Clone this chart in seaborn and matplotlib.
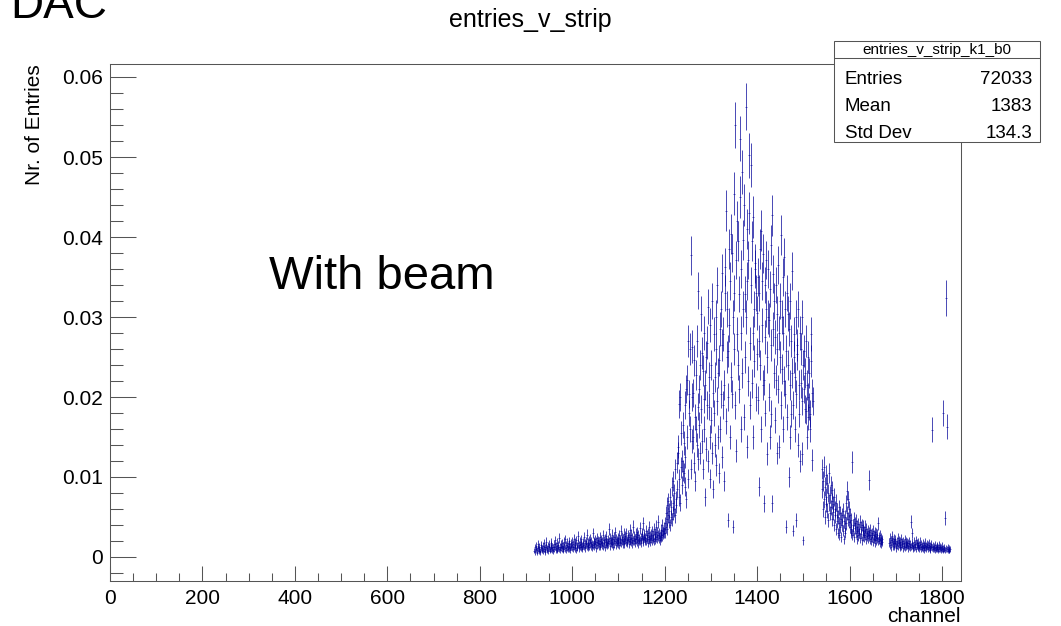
import numpy as np
import pandas as pd
import matplotlib
matplotlib.use("Agg")
import matplotlib.pyplot as plt
from matplotlib.patches import Rectangle
from matplotlib.lines import Line2D
from matplotlib.ticker import MultipleLocator, FuncFormatter
import seaborn as sns

# bin contents, in units of 1e-4
tail_left_start = 918
tail_left = [
    8, 12, 6, 10, 14, 9, 5, 11, 16, 7, 10, 13, 8, 6, 12, 15, 9, 11, 7, 14,
    10, 17, 8, 12, 6, 13, 19, 9, 11, 14, 7, 12, 16, 10, 8, 15, 11, 18, 9, 13,
    12, 7, 16, 10, 21, 13, 9, 14, 11, 18, 8, 12, 15, 10, 24, 13, 9, 16, 12, 11,
    17, 10, 14, 8, 19, 13, 11, 22, 9, 15, 12, 18, 10, 14, 16, 11, 20, 13, 9, 17,
    14, 12, 19, 10, 16, 23, 13, 11, 18, 15, 9, 21, 14, 12, 17, 26, 11, 15, 13, 19,
    16, 12, 22, 14, 10, 18, 15, 25, 13, 17, 11, 20, 16, 14, 28, 12, 18, 15, 21, 13,
    17, 23, 14, 19, 12, 16, 30, 15, 20, 13, 18, 22, 16, 11, 19, 24, 15, 17, 21, 14,
    20, 16, 25, 13, 18, 22, 15, 19, 27, 14, 21, 17, 12, 23, 19, 16, 26, 18, 15, 22,
    17, 35, 20, 14, 24, 18, 21, 16, 28, 19, 13, 22, 25, 17, 20, 31, 15, 23, 18, 21,
    24, 17, 20, 27, 15, 22, 19, 33, 18, 25, 21, 16, 23, 29, 20, 17, 26, 22, 19, 30,
    21, 18, 27, 23, 16, 25, 20, 34, 22, 19, 28, 17, 24, 21, 38, 20, 26, 18, 23, 29,
    22, 19, 31, 25, 17, 27, 23, 20, 36, 21, 24, 18, 29, 26, 22, 42, 19, 25, 28, 21,
    24, 33, 20, 27, 23, 18, 30, 25, 22, 37, 26, 19, 28, 24, 21, 32, 27, 23, 35, 20,
    26, 29, 22, 38, 25, 31, 23, 27, 44, 24, 30, 26, 21, 34, 28, 25, 40, 27, 32, 29,
    36, 30,
]
rise_start = 1200
rise = [
    42, 30, 55, 38, 48, 65, 35, 52, 70, 44, 58, 40, 75, 50, 62, 88, 47, 68, 55, 95,
    60, 80, 52, 110, 72, 65, 118, 85, 138, 130, 191, 75, 98, 200, 68, 112, 155, 90, 120, 108,
    165, 105, 142, 88, 190, 125, 72, 210, 150, 221, 270, 98, 180, 204, 260, 160, 110, 377, 200, 145,
]
peak_start = 1260
peak = [
    263, 150, 205, 118, 246, 175, 95, 228, 160, 140, 270, 188, 122, 333, 210, 165, 240, 130, 304, 185,
    145, 255, 233, 110, 198, 280, 160, 75, 215, 250, 135, 190, 268, 313, 120, 225, 188, 150, 290, 98,
    171, 240, 130, 320, 205, 85, 279, 180, 225, 140, 260, 300, 115, 195, 340, 150, 230, 105, 246, 285,
    160, 204, 310, 125, 265, 355, 190, 279, 95, 215, 330, 363, 433, 170, 250, 310, 258, 46, 200, 385,
    290, 150, 345, 404, 225, 204, 380, 38, 300, 454, 260, 330, 540, 190, 371, 133, 420, 279, 240, 395,
    329, 210, 450, 523, 280, 160, 360, 481, 230, 310, 396, 175, 440, 329, 250, 563, 300, 410, 138, 345,
    371, 220, 430, 502, 267, 190, 490, 340, 217, 395, 280, 150, 425, 310, 245, 360, 367, 200, 330, 254,
    305, 196, 350, 270, 88, 330, 240, 385, 408, 160, 290, 345, 379, 215, 67, 221, 340, 275, 180, 310,
    371, 250, 129, 300, 360, 200, 296, 335, 150, 265, 179, 390, 427, 67, 285, 354, 230, 320, 171, 275,
    221, 340, 260, 130, 304, 365, 210, 280, 138, 320, 250, 402, 190, 300, 235, 350, 160, 280, 375, 220,
    310, 204, 38, 258, 330, 175, 304, 240, 285, 100, 215, 320, 150, 179, 270, 230, 358, 33, 190, 250,
    279, 160, 225, 300, 46, 204, 265, 254, 140, 310, 215, 179, 280, 120, 217, 260, 195, 300, 129, 240,
    21, 210, 258, 185, 230, 183, 270, 150, 215, 175, 250, 200, 188, 230, 160, 179, 245, 279, 121, 205,
    195,
]
shoulder_start = 1540
shoulder = [
    85, 110, 60, 95, 72, 113, 50, 88, 66, 102, 75, 58, 92, 46, 80, 68, 105, 55, 78, 62,
    90, 48, 70, 84, 56, 66, 40, 75, 52, 60, 35, 68, 45, 58, 30, 50, 42, 62, 28, 55,
    38, 48, 25, 52, 40, 33, 58, 22, 45, 36, 50, 30, 42, 67, 55, 83, 48, 72, 60, 44,
    38, 52, 30, 46, 35, 28, 119, 40, 33, 48, 25, 42, 36, 30, 45, 22, 38, 32, 41, 27,
    35, 30, 44, 24, 37, 29, 40, 21, 34, 27, 38, 25, 32, 38, 28, 22, 35, 30, 26, 33,
    24, 31, 96, 27, 22, 34, 28, 20, 30, 25, 33, 19, 27, 23, 31, 18, 26, 29, 21, 24,
    28, 20, 42, 22, 25, 18, 27, 21, 16, 24, 19, 22,
]
tail_right_start = 1686
tail_right = [
    18, 24, 15, 21, 12, 19, 26, 14, 20, 17, 23, 13, 18, 22, 16, 11, 20, 15, 24, 14,
    17, 21, 12, 19, 15, 23, 13, 18, 16, 11, 20, 14, 17, 22, 12, 16, 19, 13, 15, 18,
    11, 17, 14, 20, 12, 16, 44, 13, 30, 15, 18, 11, 14, 19, 12, 16, 13, 21, 10, 15,
    17, 12, 14, 18, 11, 15, 13, 19, 10, 16, 12, 14, 17, 11, 13, 15, 9, 18, 12, 14,
    11, 16, 13, 10, 15, 12, 17, 9, 14, 11, 13, 16, 159, 12, 10, 14, 11, 13, 9, 15,
    12, 10, 14, 11, 13, 8, 12, 15, 10, 11, 13, 9, 12, 10, 14, 8, 11, 180, 10, 12,
    49, 9, 324, 11, 163, 10, 8, 12, 9, 11, 8, 10,
]

stats_name = "entries_v_strip_k1_b0"
stats_labels = ["Entries", "Mean", "Std Dev"]
stats_values = ["72033", "1383", "134.3"]

NORM = 6400.0  # entries per unit of bin content, sets the error bar size

frames = []
for start, vals in [(tail_left_start, tail_left), (rise_start, rise), (peak_start, peak),
                    (shoulder_start, shoulder), (tail_right_start, tail_right)]:
    frames.append(pd.DataFrame({"channel": np.arange(start, start + len(vals)),
                                "content": np.array(vals) * 1e-4}))
df = pd.concat(frames, ignore_index=True)
df["err"] = np.sqrt(df["content"] * NORM) / NORM

W, H = 1061, 626
sns.set_theme(style="ticks")
plt.rcParams["font.family"] = ["Liberation Sans", "DejaVu Sans"]
plt.rcParams["text.color"] = "black"
plt.rcParams["axes.labelcolor"] = "black"
plt.rcParams["xtick.labelcolor"] = "black"
plt.rcParams["ytick.labelcolor"] = "black"
frame_col = "#555555"
bar_col = "#000099"

fig = plt.figure(figsize=(W / 100, H / 100), dpi=100)
ax = fig.add_axes([110 / W, 1 - 581 / H, (961 - 110) / W, (581 - 64) / H])

ax.errorbar(df["channel"], df["content"], yerr=df["err"], fmt="none",
            ecolor=bar_col, elinewidth=0.5, capsize=0)
sns.scatterplot(data=df, x="channel", y="content", marker="_", s=1, color=bar_col,
                linewidth=0.4, ax=ax, legend=False)

ax.set_xlim(0, 1841)
ax.set_ylim(-0.003, 0.061625)

ax.xaxis.set_major_locator(MultipleLocator(200))
ax.xaxis.set_minor_locator(MultipleLocator(50))
ax.yaxis.set_major_locator(MultipleLocator(0.01))
ax.yaxis.set_minor_locator(MultipleLocator(0.002))
ax.yaxis.set_major_formatter(FuncFormatter(lambda v, p: "0" if abs(v) < 1e-9 else f"{v:g}"))

ax.tick_params(axis="x", which="major", direction="in", length=11, width=0.75,
               color=frame_col, labelsize=15, pad=6)
ax.tick_params(axis="x", which="minor", direction="in", length=5.5, width=0.75, color=frame_col)
ax.tick_params(axis="y", which="major", direction="in", length=18.4, width=0.75,
               color=frame_col, labelsize=15, pad=5)
ax.tick_params(axis="y", which="minor", direction="in", length=9.2, width=0.75, color=frame_col)
for sp in ax.spines.values():
    sp.set_visible(True)
    sp.set_color(frame_col)
    sp.set_linewidth(0.75)

ax.set_xlabel("channel", fontsize=15, loc="right")
ax.xaxis.set_label_coords(1.0, -0.05)
ax.set_ylabel("Nr. of Entries", fontsize=15, loc="top")
ax.yaxis.set_label_coords(-0.077, 1.0)

ax.text(345, 0.0335, "With beam", fontsize=34, ha="left", va="baseline")
fig.text(0.5, 1 - 20 / H, "entries_v_strip", fontsize=18, ha="center", va="center")
fig.text(10 / W, 1 - 18 / H, "DAC", fontsize=33, ha="left", va="baseline")

# stats box
bx0, bx1, by0, by1 = 834, 1040, 41.5, 142
fig.add_artist(Rectangle((bx0 / W, 1 - by1 / H), (bx1 - bx0) / W, (by1 - by0) / H,
                         transform=fig.transFigure, facecolor="white",
                         edgecolor=frame_col, linewidth=0.75, zorder=5))
fig.add_artist(Line2D([bx0 / W, bx1 / W], [1 - 58 / H, 1 - 58 / H],
                      transform=fig.transFigure, color=frame_col, linewidth=0.75, zorder=6))
fig.text((bx0 + bx1) / 2 / W, 1 - 50 / H, stats_name, fontsize=11,
         ha="center", va="center", zorder=7)
for i, (lab, val) in enumerate(zip(stats_labels, stats_values)):
    yy = 1 - (80 + 26.5 * i) / H
    fig.text(845 / W, yy, lab, fontsize=13.5, ha="left", va="center", zorder=7)
    fig.text(1032 / W, yy, val, fontsize=13.5, ha="right", va="center", zorder=7)

fig.savefig("out.png", dpi=100)
